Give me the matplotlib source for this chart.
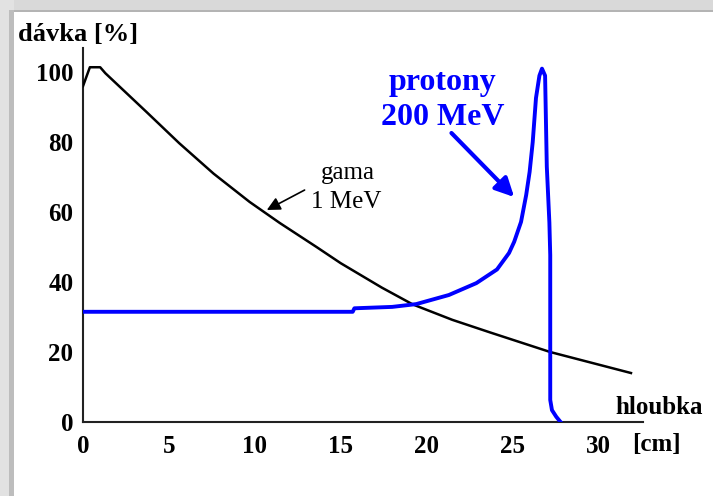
import matplotlib
matplotlib.use("Agg")
import matplotlib.pyplot as plt
from matplotlib.patches import Rectangle

# gama 1 MeV - depth dose curve
gama_depth = [0, 0.4, 1.0, 1.3, 3.7, 5.6, 7.6, 9.7, 11.45, 13.6, 15.0, 17.4, 19.2, 21.5, 23.7, 27.2, 31.9]
gama_dose = [96, 101.4, 101.4, 99.7, 88.6, 79.7, 71.0, 62.9, 56.9, 50.0, 45.4, 38.4, 33.6, 29.2, 25.6, 20.0, 14.0]

# protony 200 MeV - Bragg peak
prot_depth = [0, 15.7, 15.8, 18.0, 19.4, 21.3, 22.9, 23.7, 24.1, 24.8, 25.1, 25.5, 25.8, 26.0,
              26.18, 26.37, 26.57, 26.72, 26.9, 27.0, 27.15, 27.2, 27.2, 27.3, 27.55, 27.8]
prot_dose = [31.5, 31.5, 32.5, 32.9, 33.7, 36.3, 39.7, 42.3, 43.6, 48.3, 51.5, 57.2, 64.9, 71.5,
             80.0, 92.6, 99.0, 101.0, 99.0, 73.0, 57.0, 47.7, 6.3, 3.4, 1.5, 0]

x_ticks = [0, 5, 10, 15, 20, 25, 30]
y_ticks = [0, 20, 40, 60, 80, 100]

serif = ['Liberation Serif', 'DejaVu Serif']

fig = plt.figure(figsize=(7.13, 4.96), dpi=100)
fig.patch.set_facecolor('white')

# grey frame at top and left
W, H = 713, 496
fig.patches.append(Rectangle((0, 1 - 12 / H), 1, 12 / H, transform=fig.transFigure,
                             facecolor='#d9d9d9', edgecolor='none', zorder=0))
fig.patches.append(Rectangle((0, 1 - 12 / H), 1, 2 / H, transform=fig.transFigure,
                             facecolor='#b4b4b4', edgecolor='none', zorder=0))
fig.patches.append(Rectangle((0, 0), 14 / W, 1, transform=fig.transFigure,
                             facecolor='#e2e2e2', edgecolor='none', zorder=0))
fig.patches.append(Rectangle((9 / W, 0), 5 / W, 1 - 10 / H, transform=fig.transFigure,
                             facecolor='#bdbdbd', edgecolor='none', zorder=0))

ax = fig.add_axes([83 / W, 74 / H, 560 / W, 374 / H])
ax.set_xlim(0, 32.6)
ax.set_ylim(0, 106.9)
ax.patch.set_alpha(0)

ax.plot(gama_depth, gama_dose, color='black', lw=1.8, zorder=3)
ax.plot(prot_depth, prot_dose, color='#0000ff', lw=2.8, zorder=4, solid_joinstyle='round')

for s in ['top', 'right']:
    ax.spines[s].set_visible(False)
for s in ['left', 'bottom']:
    ax.spines[s].set_color('#222222')
    ax.spines[s].set_linewidth(1.5)

ax.set_xticks(x_ticks)
ax.set_yticks(y_ticks)
ax.tick_params(length=0)
ax.tick_params(axis='y', pad=7)
ax.tick_params(axis='x', pad=9.5)
for lab in ax.get_xticklabels() + ax.get_yticklabels():
    lab.set_family(serif)
    lab.set_fontweight('bold')
    lab.set_fontsize(18)

# axis titles
fig.text(18 / W, 1 - 34 / H, 'dávka [%]', family=serif, fontweight='bold', fontsize=19,
         ha='left', va='center')
fig.text(659 / W, 1 - 408 / H, 'hloubka', family=serif, fontweight='bold', fontsize=18,
         ha='center', va='center')
fig.text(656 / W, 1 - 445 / H, '[cm]', family=serif, fontweight='bold', fontsize=18,
         ha='center', va='center')

# annotations
ax.text(20.93, 96.9, 'protony', color='#0000ff', family=serif, fontweight='bold',
        fontsize=23, ha='center', va='center')
ax.text(20.93, 86.9, '200 MeV', color='#0000ff', family=serif, fontweight='bold',
        fontsize=23, ha='center', va='center')
ax.annotate('', xy=(25.1, 64.3), xytext=(21.45, 82.6),
            arrowprops=dict(arrowstyle='-|>', color='#0000ff', lw=3, mutation_scale=28,
                            shrinkA=0, shrinkB=0))

ax.text(15.4, 71.1, 'gama', family=serif, fontsize=18, ha='center', va='center')
ax.text(15.35, 62.9, '1 MeV', family=serif, fontsize=18, ha='center', va='center')
ax.annotate('', xy=(10.7, 60.6), xytext=(12.9, 66.3),
            arrowprops=dict(arrowstyle='-|>', color='black', lw=1.2, mutation_scale=20,
                            shrinkA=0, shrinkB=0))

fig.savefig('out.png', dpi=100)
